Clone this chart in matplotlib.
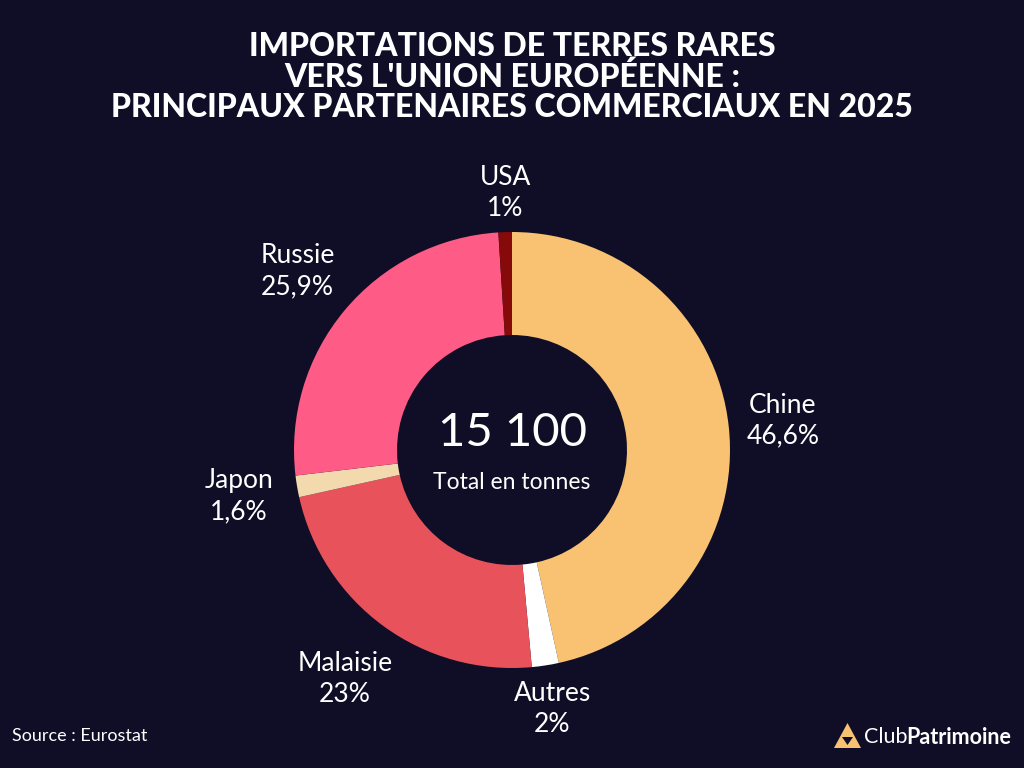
import matplotlib
matplotlib.use("Agg")
import matplotlib.pyplot as plt
import numpy as np
from matplotlib.patches import Polygon

# Importations de terres rares vers l'UE, 2025 (source : Eurostat)
pays = ["Chine", "Autres", "Malaisie", "Japon", "Russie", "USA"]
parts = [46.6, 2.0, 23.0, 1.6, 25.9, 1.0]
parts_txt = ["46,6%", "2%", "23%", "1,6%", "25,9%", "1%"]
couleurs = ["#F8C272", "#FFFFFF", "#E8525A", "#F3D9AE", "#FE5C87", "#860A0A"]
total_txt = "15 100"

BG = "#100E27"
plt.rcParams['font.family'] = ['Lato', 'DejaVu Sans']

fig = plt.figure(figsize=(10.24, 7.68), dpi=100, facecolor=BG)

# axe du donut : centre (512, 450) px, rayon 218 px
cx, cy, r = 512, 450, 218
ax = fig.add_axes([(cx - r) / 1024, (768 - cy - r) / 768, 2 * r / 1024, 2 * r / 768])
ax.set_facecolor(BG)

wedges, _ = ax.pie(parts, colors=couleurs, startangle=90, counterclock=False,
                   radius=1.0, wedgeprops=dict(width=1 - 115 / 218, linewidth=0))
ax.set_xlim(-1, 1)
ax.set_ylim(-1, 1)
ax.set_aspect("equal")
ax.axis("off")

dist = [1.25, 1.2, 1.3, 1.27, 1.28, 1.18]
for w, nom, pct, d in zip(wedges, pays, parts_txt, dist):
    ang = np.deg2rad((w.theta1 + w.theta2) / 2)
    if nom == "USA":
        ang = np.deg2rad(91.5)
    ax.text(d * np.cos(ang), d * np.sin(ang), nom + "\n" + pct, color="white",
            fontsize=19, ha="center", va="center", linespacing=1.3, clip_on=False)

ax.text(0, 0.08, total_txt, color="white", fontsize=34, ha="center", va="center")
ax.text(0, -0.15, "Total en tonnes", color="white", fontsize=16.5, ha="center", va="center")

fig.text(0.5, 1 - 77 / 768, "IMPORTATIONS DE TERRES RARES\nVERS L'UNION EUROPÉENNE :\nPRINCIPAUX PARTENAIRES COMMERCIAUX EN 2025",
         color="white", fontsize=23, fontweight="black", ha="center", va="center",
         linespacing=1.05)

fig.text(12 / 1024, 1 - 736 / 768, "Source : Eurostat", color="white", fontsize=13,
         ha="left", va="center")

# logo ClubPatrimoine
tri = Polygon([[834 / 1024, 1 - 748 / 768], [861 / 1024, 1 - 748 / 768], [847.5 / 1024, 1 - 723 / 768]],
              closed=True, transform=fig.transFigure, facecolor="#F8C272", edgecolor="none")
inner = Polygon([[842 / 1024, 1 - 737 / 768], [853 / 1024, 1 - 737 / 768], [847.5 / 1024, 1 - 745 / 768]],
                closed=True, transform=fig.transFigure, facecolor=BG, edgecolor="none")
fig.add_artist(tri)
fig.add_artist(inner)
fig.text(864 / 1024, 1 - 737 / 768, "Club", color="white", fontsize=15.5, fontweight="normal",
         ha="left", va="center")
fig.text(906 / 1024, 1 - 737 / 768, "Patrimoine", color="white", fontsize=15.5, fontweight="bold",
         ha="left", va="center")

fig.savefig("out.png", dpi=100, facecolor=BG)
